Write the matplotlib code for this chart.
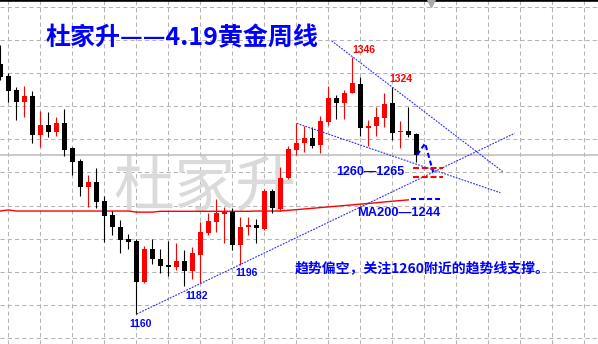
import matplotlib
matplotlib.use('Agg')
import matplotlib.pyplot as plt
import matplotlib.transforms as mtransforms

plt.rcParams['lines.scale_dashes'] = False

# ---- weekly gold candles ----
opens = [1341.4, 1332.7, 1322.5, 1314.0, 1318.2, 1289.8, 1297.1, 1292.2, 1298.8, 1280.2,
         1271.2, 1252.3, 1255.9, 1241.9, 1231.7, 1223.2, 1214.3, 1212.8, 1183.3, 1207.0,
         1199.6, 1195.4, 1194.2, 1198.5, 1191.3, 1202.7, 1218.4, 1226.9, 1232.5, 1234.1,
         1209.9, 1222.8, 1224.5, 1221.6, 1249.2, 1235.9, 1258.4, 1278.9, 1283.8, 1287.4,
         1282.6, 1299.5, 1316.5, 1312.9, 1320.1, 1326.7, 1294.7, 1296.4, 1302.0, 1312.9,
         1291.8, 1293.0, 1290.6]
highs = [1355.2, 1334.7, 1324.9, 1325.4, 1322.0, 1307.5, 1306.5, 1302.7, 1308.9, 1280.9,
         1272.6, 1260.8, 1266.1, 1245.5, 1234.9, 1228.1, 1217.9, 1214.1, 1209.2, 1214.1,
         1207.0, 1213.1, 1211.6, 1206.3, 1208.3, 1226.9, 1233.4, 1243.1, 1237.3, 1236.6,
         1230.5, 1230.5, 1228.6, 1250.4, 1250.6, 1266.8, 1282.1, 1298.8, 1296.4, 1295.4,
         1303.6, 1325.4, 1318.9, 1322.5, 1346.3, 1332.0, 1300.7, 1310.4, 1320.1, 1324.9,
         1300.2, 1310.4, 1291.5]
lows = [1329.8, 1313.8, 1300.7, 1303.1, 1284.2, 1281.3, 1288.6, 1289.1, 1274.6, 1260.8,
        1245.5, 1237.8, 1236.6, 1212.3, 1217.2, 1204.3, 1206.8, 1159.8, 1182.6, 1196.1,
        1189.8, 1187.4, 1191.8, 1180.4, 1185.0, 1182.3, 1217.2, 1219.6, 1211.6, 1206.3,
        1195.4, 1217.2, 1211.2, 1220.8, 1233.0, 1234.9, 1257.9, 1275.3, 1277.7, 1280.2,
        1276.5, 1297.1, 1301.5, 1301.5, 1320.0, 1289.1, 1281.8, 1289.1, 1295.9, 1286.2,
        1280.2, 1288.6, 1270.4]
closes = [1332.0, 1322.0, 1314.0, 1318.2, 1289.8, 1297.1, 1292.2, 1298.8, 1278.9, 1270.4,
          1252.3, 1255.9, 1241.4, 1231.0, 1222.8, 1213.6, 1212.3, 1183.3, 1207.0, 1199.6,
          1194.9, 1194.2, 1198.5, 1191.3, 1203.9, 1219.4, 1227.4, 1233.0, 1234.1, 1209.9,
          1223.2, 1224.5, 1222.1, 1249.2, 1237.0, 1258.8, 1279.7, 1284.2, 1287.9, 1281.8,
          1300.2, 1316.5, 1312.9, 1320.1, 1327.4, 1294.7, 1296.4, 1302.7, 1312.4, 1291.5,
          1293.0, 1289.8, 1275.3]

# ---- 200 moving average ----
ma200 = [1234.6, 1235.4, 1234.6, 1234.6, 1234.6, 1234.6, 1234.6, 1234.6, 1234.6, 1234.6,
         1234.6, 1234.6, 1234.6, 1234.6, 1234.6, 1234.6, 1234.6, 1233.8, 1233.8, 1233.8,
         1234.4, 1234.4, 1234.4, 1234.4, 1234.4, 1234.4, 1234.4, 1234.4, 1234.4, 1234.4,
         1234.4, 1234.4, 1234.6, 1234.6, 1234.6, 1234.6, 1235.1, 1235.6, 1236.1, 1236.6,
         1237.1, 1237.6, 1238.1, 1238.6, 1239.1, 1239.6, 1240.1, 1240.6, 1241.2, 1241.7,
         1242.2, 1242.7]

# ---- trend lines (candle index, price) ----
support_line = ([17.05, 64.3], [1159.8, 1291.1])
upper_line = ([41.4, 62.8], [1358.3, 1263.2])
lower_line = ([37.05, 62.5], [1298.3, 1247.9])
zigzag = ([52.1, 53.1, 54.1], [1275.3, 1283.8, 1262.9])
zone_span = [51.6, 55.3]
zone_levels = [1265.5, 1259.5]
ma_span = [51.3, 55.0]
ma_level = 1243.0

grid_x = [1, 5, 9, 13, 17, 21, 25, 29, 33, 37, 41, 45, 49, 53, 57, 61, 65, 69, 73]
grid_y = [1142.6, 1166.6, 1190.6, 1214.6, 1238.6, 1262.6, 1286.6, 1310.6, 1334.6,
          1358.6, 1382.6]

RED = '#ff0000'
BLUE = '#0000ff'
LBLUE = '#2a2aff'
CJK = ['Noto Sans CJK SC', 'DejaVu Sans']
LAT = ['Liberation Sans', 'DejaVu Sans']

fig = plt.figure(figsize=(5.98, 3.44), dpi=100)
ax = fig.add_axes([0, 0, 1, 1])
ax.set_xlim(-0.04, 74.71)
ax.set_ylim(1138.0, 1387.9)
ax.set_xticks(grid_x)
ax.set_yticks(grid_y)
ax.tick_params(length=0, labelbottom=False, labelleft=False)
ax.grid(True, color='#b4b4b4', linewidth=0.75, linestyle=(0, (3.0, 2.2)))
ax.set_axisbelow(True)
for s in ['left', 'right', 'bottom']:
    ax.spines[s].set_visible(False)
ax.spines['top'].set_color('black')
ax.spines['top'].set_linewidth(2.6)

# watermark
ax.text(25.6, 1250, '杜家升', fontsize=44, color='#dadada', family=CJK,
        ha='center', va='center', zorder=0.8)

# current price line
ax.axhline(closes[-1], color='#c0c0c0', linewidth=1.2, zorder=1)

# MA200
ax.plot(range(len(ma200)), ma200, color=RED, linewidth=1.0, zorder=2)

# candles
for i, (o, h, l, c) in enumerate(zip(opens, highs, lows, closes)):
    col = RED if c >= o else 'black'
    ax.vlines(i, l, h, color=col, linewidth=0.8, zorder=3)
    ax.bar(i, max(abs(c - o), 0.9), bottom=min(o, c), width=0.62, color=col,
           linewidth=0, zorder=4)

# trend lines
for xs, ys in (support_line, upper_line, lower_line):
    ax.plot(xs, ys, color=LBLUE, linewidth=0.8, linestyle=(0, (1.3, 0.9)), zorder=5)

ax.plot(zigzag[0], zigzag[1], color=BLUE, linewidth=1.5,
        linestyle=(0, (3.6, 2.2)), zorder=6)
for lv in zone_levels:
    ax.plot(zone_span, [lv, lv], color=RED, linewidth=1.5,
            linestyle=(0, (4.3, 2.0)), zorder=6)
ax.plot(ma_span, [ma_level, ma_level], color=BLUE, linewidth=1.5,
        linestyle=(0, (3.6, 2.2)), zorder=6)

# chart-shift marker at the top
trans = mtransforms.blended_transform_factory(ax.transData, ax.transAxes)
ax.plot([53.8], [0.99], marker='v', markersize=6, color='#a8a8a8',
        transform=trans, clip_on=False, zorder=7)

# texts
ax.text(5.59, 1360.3, '杜家升——4.19黄金周线', fontsize=18, color=BLUE,
        family=CJK, fontweight='bold', ha='left', va='center', zorder=8)
ax.text(45.4, 1351.6, '1346', fontsize=7.5, color=RED, family=LAT,
        fontweight='bold', ha='center', va='center', zorder=8)
ax.text(50.1, 1330.2, '1324', fontsize=7.5, color=RED, family=LAT,
        fontweight='bold', ha='center', va='center', zorder=8)
ax.text(41.96, 1263.3, '1260—1265', fontsize=9, color=BLUE, family=LAT,
        fontweight='bold', ha='left', va='center', zorder=8)
ax.text(44.6, 1233.5, 'MA200—1244', fontsize=9.3, color=BLUE, family=LAT,
        fontweight='bold', ha='left', va='center', zorder=8)
ax.text(17.5, 1152.6, '1160', fontsize=7.5, color=BLUE, family=LAT,
        fontweight='bold', ha='center', va='center', zorder=8)
ax.text(24.6, 1172.9, '1182', fontsize=7.5, color=BLUE, family=LAT,
        fontweight='bold', ha='center', va='center', zorder=8)
ax.text(30.8, 1189.6, '1196', fontsize=7.5, color=BLUE, family=LAT,
        fontweight='bold', ha='center', va='center', zorder=8)
ax.text(36.8, 1193.2, '趋势偏空，关注1260附近的趋势线支撑。', fontsize=10, color=BLUE,
        family=CJK, fontweight='bold', ha='left', va='center', zorder=8)

fig.savefig('out.png', dpi=100)
